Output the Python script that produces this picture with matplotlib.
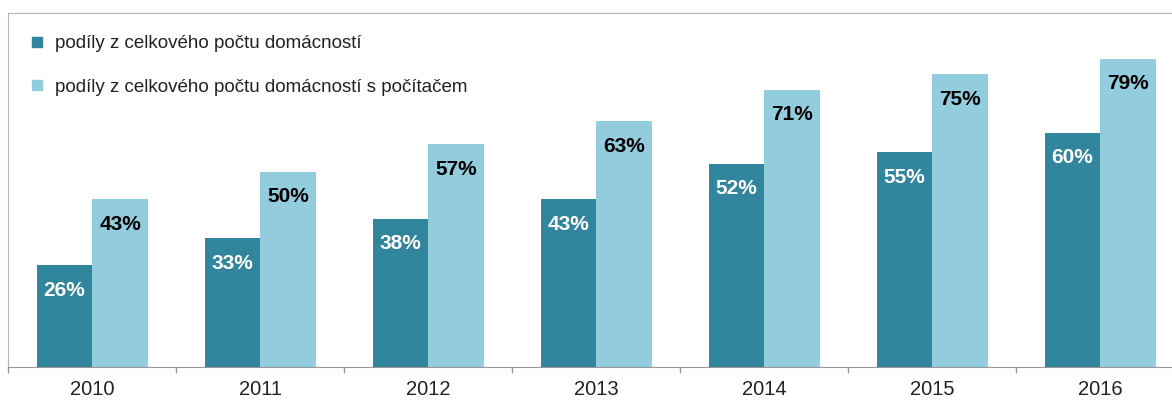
import numpy as np
import matplotlib.pyplot as plt
from matplotlib.lines import Line2D

plt.rcParams["font.family"] = ["Liberation Sans", "DejaVu Sans"]

years = ["2010", "2011", "2012", "2013", "2014", "2015", "2016"]
share_all = [26, 33, 38, 43, 52, 55, 60]
share_pc = [43, 50, 57, 63, 71, 75, 79]
labels = ["podíly z celkového počtu domácností",
          "podíly z celkového počtu domácností s počítačem"]

dark = "#31859C"
light = "#93CDDD"
grid_gray = "#B3B3B3"

fig = plt.figure(figsize=(11.72, 4.0), dpi=100)
ax = fig.add_axes([8.3 / 1172, 33.3 / 400, 1176 / 1172, 353.7 / 400])

x = np.arange(len(years))
w = 0.33
b1 = ax.bar(x - w / 2, share_all, w, color=dark)
b2 = ax.bar(x + w / 2, share_pc, w, color=light)

for bars, vals, col in [(b1, share_all, "white"), (b2, share_pc, "black")]:
    for r, v in zip(bars, vals):
        ax.annotate(f"{v}%", (r.get_x() + r.get_width() / 2, v),
                    xytext=(0, -18), textcoords="offset points",
                    ha="center", va="center", fontsize=15,
                    fontweight="bold", color=col)

ax.set_xlim(-0.5, len(years) - 0.5)
ax.set_ylim(0, 90.7)
ax.set_yticks([])
ax.set_xticks(x)
ax.set_xticklabels(years, fontsize=14.5, color="#222222")
ax.set_xticks(np.arange(len(years) + 1) - 0.5, minor=True)
ax.tick_params(axis="x", which="major", length=0, pad=9.5)
ax.tick_params(axis="x", which="minor", length=4.5, color="#999999", width=1)

ax.spines["right"].set_visible(False)
ax.spines["top"].set_color(grid_gray)
ax.spines["left"].set_color(grid_gray)
ax.spines["bottom"].set_color("#999999")

handles = [Line2D([], [], marker="s", linestyle="", markersize=6.5,
                  color=c) for c in (dark, light)]
ax.legend(handles, labels, loc="upper left",
          bbox_to_anchor=(29 / 1172, 1 - 35 / 400), bbox_transform=fig.transFigure,
          frameon=False, fontsize=13.5, handlelength=0.8, handletextpad=0.6,
          labelspacing=1.41, borderaxespad=0, borderpad=0, labelcolor="#222222")

fig.savefig("out.png")
